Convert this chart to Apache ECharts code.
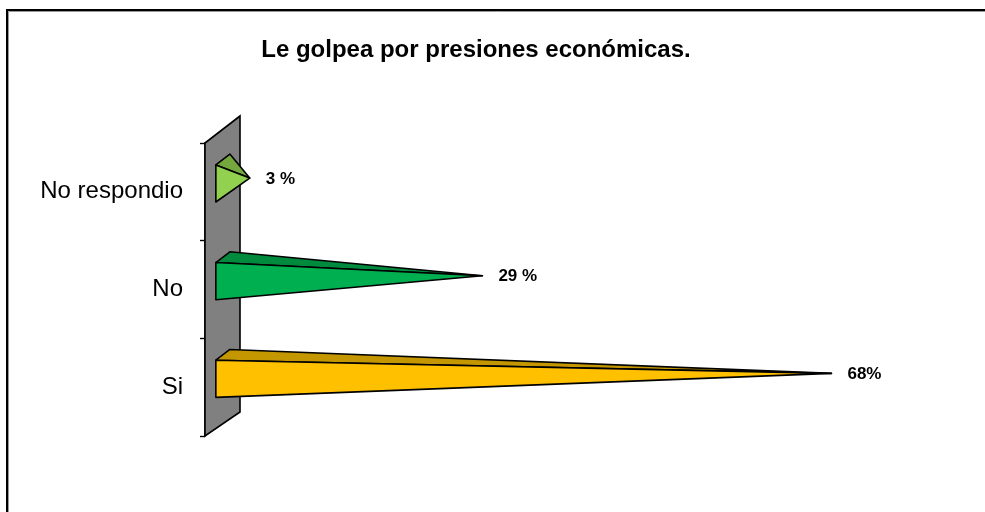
<!DOCTYPE html>
<html>
<head>
<meta charset="utf-8">
<script src="https://cdn.jsdelivr.net/npm/echarts@6/dist/echarts.min.js"></script>
<style>
  html, body { margin: 0; padding: 0; background: #fff; }
  #chart { width: 985px; height: 512px; }
</style>
</head>
<body>
<div id="chart"></div>
<script>
// data (bottom to top, as the category axis runs)
var categories = ['Si', 'No', 'No respondio'];
var values = [68, 29, 3];
var valueLabels = ['68%', '29 %', '3 %'];
var frontColors = ['#FFC000', '#00B050', '#92D050'];
var topColors = ['#C49600', '#008A3E', '#74A83E'];

var FONT = '"Liberation Sans", Arial, sans-serif';
// 3D depth vector of the back wall (px) and where the pyramids sit inside it
var DEPTH = [35, -27];
var FRONT = 0.31, BACK = 0.71, MID = 0.51;

var chart = echarts.init(document.getElementById('chart'));

function wallItem(params, api) {
  var cs = params.coordSys;
  var x = cs.x, y = cs.y, h = cs.height;
  return {
    type: 'polygon',
    shape: {
      points: [
        [x, y], [x, y + h],
        [x + DEPTH[0], y + h + DEPTH[1] + 3],
        [x + DEPTH[0], y + DEPTH[1]]
      ]
    },
    style: { fill: '#808080', stroke: '#000', lineWidth: 1.6 },
    z2: 0
  };
}

function pyramidItem(params, api) {
  var cat = api.value(1);
  var base = api.coord([0, cat]);
  var tip = api.coord([api.value(0), cat]);
  var hh = api.size([0, 1])[1] * 0.19;
  var i = params.dataIndex;

  var fx = base[0] + FRONT * DEPTH[0];
  var fy = base[1] + FRONT * DEPTH[1];
  var bx = base[0] + BACK * DEPTH[0];
  var by = base[1] + BACK * DEPTH[1];
  var ax = tip[0] + MID * DEPTH[0];
  var ay = tip[1] + MID * DEPTH[1];

  return {
    type: 'group',
    children: [
      {
        type: 'polygon',
        shape: { points: [[fx, fy - hh], [bx, by - hh], [ax, ay]] },
        style: { fill: topColors[i], stroke: '#000', lineWidth: 1.6, lineJoin: 'round' }
      },
      {
        type: 'polygon',
        shape: { points: [[fx, fy - hh], [fx, fy + hh], [ax, ay]] },
        style: { fill: frontColors[i], stroke: '#000', lineWidth: 1.6, lineJoin: 'round' }
      },
      {
        type: 'text',
        x: ax + 16,
        y: ay + 1,
        style: {
          text: valueLabels[i],
          fill: '#000',
          font: 'bold 17px ' + FONT,
          textAlign: 'left',
          textVerticalAlign: 'middle'
        }
      }
    ]
  };
}

chart.setOption({
  animation: false,
  backgroundColor: '#fff',
  grid: { left: 205, top: 143, width: 716, height: 293 },
  xAxis: {
    type: 'value',
    min: 0,
    max: 80,
    show: false
  },
  yAxis: {
    type: 'category',
    data: categories,
    axisLine: { show: true, lineStyle: { color: '#000', width: 1.6 } },
    axisTick: { show: true, length: 5, lineStyle: { color: '#000', width: 1.4 } },
    axisLabel: { color: '#000', fontSize: 24, fontFamily: FONT, margin: 22 },
    splitLine: { show: false }
  },
  graphic: [
    {
      type: 'rect',
      shape: { x: 7, y: 10, width: 1000, height: 520 },
      style: { fill: 'none', stroke: '#000', lineWidth: 2 }
    },
    {
      type: 'rect',
      shape: { x: 8.5, y: 11.5, width: 1000, height: 520 },
      style: { fill: 'none', stroke: '#999', lineWidth: 1 }
    },
    {
      type: 'text',
      x: 476,
      y: 50,
      style: {
        text: 'Le golpea por presiones económicas.',
        fill: '#000',
        font: 'bold 24px ' + FONT,
        textAlign: 'center',
        textVerticalAlign: 'middle'
      }
    }
  ],
  series: [
    {
      type: 'custom',
      name: 'wall',
      renderItem: wallItem,
      data: [[0, 0]],
      silent: true,
      z: 1
    },
    {
      type: 'custom',
      name: 'pyramids',
      renderItem: pyramidItem,
      encode: { x: 0, y: 1 },
      data: values.map(function (v, i) { return [v, i]; }),
      z: 3
    }
  ]
});
</script>
</body>
</html>
